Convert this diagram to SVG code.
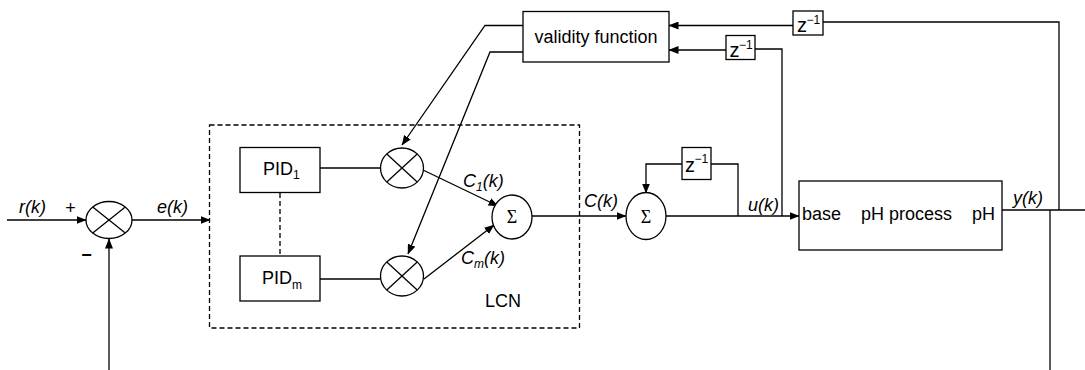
<svg xmlns="http://www.w3.org/2000/svg" width="1085" height="370" viewBox="0 0 1085 370">
<style>
.b{fill:#fff;stroke:#000;stroke-width:1.3}
.l{fill:none;stroke:#000;stroke-width:1.3}
.d{fill:none;stroke:#000;stroke-width:1.3;stroke-dasharray:5 3}
.t{font-family:"Liberation Sans",Arial,sans-serif;font-size:18px;fill:#000}
.i{font-style:italic}
.s{font-size:12px}
.z{font-family:"Liberation Sans",Arial,sans-serif;font-size:20px;fill:#000}
.sg{font-family:"Liberation Serif","Times New Roman",serif;font-size:18px;fill:#000}
.a{marker-end:url(#ar)}
</style>
<defs>
<marker id="ar" markerUnits="userSpaceOnUse" markerWidth="10" markerHeight="8" refX="9.5" refY="4" orient="auto">
<path d="M0,0 L10,4 L0,8 z" fill="#000"/>
</marker>
</defs>
<rect width="1085" height="370" fill="#fff"/>
<g id="connectors">
<line class="l a" x1="7" y1="220" x2="86" y2="220"/>
<line class="l a" x1="132" y1="220" x2="210" y2="220"/>
<line class="l a" x1="109" y1="370" x2="109" y2="239"/>
<line class="l" x1="320" y1="168" x2="380" y2="168"/>
<line class="l" x1="320" y1="279" x2="380" y2="279"/>
<line class="d" x1="280" y1="193" x2="280" y2="256"/>
<line class="l a" x1="423" y1="170" x2="498" y2="206"/>
<line class="l a" x1="424" y1="279" x2="494" y2="225"/>
<polyline class="l a" points="523,25.5 485,25.5 402,145"/>
<polyline class="l a" points="523,52 490,52 408,254"/>
<line class="l a" x1="532" y1="216" x2="626" y2="216"/>
<line class="l a" x1="666" y1="216" x2="799" y2="216"/>
<polyline class="l" points="738,216 738,164 711,164"/>
<polyline class="l a" points="682,164 646,164 646,193"/>
<polyline class="l" points="782,216 782,49 755,49"/>
<line class="l a" x1="726" y1="50" x2="669" y2="50"/>
<line class="l" x1="1002" y1="210" x2="1085" y2="210"/>
<polyline class="l" points="1059,210 1059,22 823,22"/>
<line class="l a" x1="793" y1="25.5" x2="669" y2="25.5"/>
<line class="l" x1="1050" y1="210" x2="1050" y2="370"/>
</g>
<g id="lcn">
<rect class="d" x="209.5" y="125" width="370" height="203"/>
<text class="t" x="485" y="307">LCN</text>
</g>
<g id="sum1">
<ellipse class="b" cx="109" cy="220" rx="23" ry="18.5"/>
<line class="l" x1="92.7" y1="206.9" x2="125.3" y2="233.1"/>
<line class="l" x1="92.7" y1="233.1" x2="125.3" y2="206.9"/>
</g>
<g id="pid1">
<rect class="b" x="240" y="147.5" width="80" height="45"/>
<text class="t" x="263" y="174.5">PID<tspan class="s" dy="4">1</tspan></text>
</g>
<g id="pidm">
<rect class="b" x="240" y="256" width="80" height="45"/>
<text class="t" x="262" y="283.5">PID<tspan class="s" dy="5">m</tspan></text>
</g>
<g id="mult1">
<ellipse class="b" cx="402" cy="168" rx="21.5" ry="20"/>
<line class="l" x1="386.8" y1="153.9" x2="417.2" y2="182.1"/>
<line class="l" x1="386.8" y1="182.1" x2="417.2" y2="153.9"/>
</g>
<g id="multm">
<ellipse class="b" cx="402" cy="276" rx="21.5" ry="20"/>
<line class="l" x1="386.8" y1="261.9" x2="417.2" y2="290.1"/>
<line class="l" x1="386.8" y1="290.1" x2="417.2" y2="261.9"/>
</g>
<g id="sigma1">
<ellipse class="b" cx="512" cy="217" rx="20" ry="22"/>
<text class="sg" x="512" y="223" text-anchor="middle">Σ</text>
</g>
<g id="sigma2">
<ellipse class="b" cx="646" cy="216" rx="20" ry="23.5"/>
<text class="sg" x="646" y="222.5" text-anchor="middle">Σ</text>
</g>
<g id="validity">
<rect class="b" x="523" y="11.5" width="146" height="50.5"/>
<text class="t" x="596" y="43" text-anchor="middle">validity function</text>
</g>
<g id="z1">
<rect class="b" x="793" y="11" width="30" height="24"/>
<text class="z" x="797" y="32">z<tspan class="s" dx="-0.5" dy="-8">−1</tspan></text>
</g>
<g id="z2">
<rect class="b" x="726" y="35.5" width="29" height="24"/>
<text class="z" x="729.5" y="56.5">z<tspan class="s" dx="-0.5" dy="-8">−1</tspan></text>
</g>
<g id="z3">
<rect class="b" x="682" y="147.5" width="29" height="32"/>
<text class="z" x="685" y="171.5">z<tspan class="s" dx="-0.5" dy="-9">−1</tspan></text>
</g>
<g id="process">
<rect class="b" x="799" y="181" width="203" height="69"/>
<text class="t" x="802" y="220">base</text>
<text class="t" x="861" y="220">pH process</text>
<text class="t" x="972" y="220">pH</text>
</g>
<g id="labels">
<text class="t i" x="19" y="213">r(k)</text>
<text class="t" x="70.5" y="214" text-anchor="middle">+</text>
<text class="t" x="86.5" y="261" text-anchor="middle" style="font-weight:bold">−</text>
<text class="t i" x="157" y="213">e(k)</text>
<text class="t i" x="463" y="187">C<tspan class="s" dy="4">1</tspan><tspan dy="-4">(k)</tspan></text>
<text class="t i" x="461" y="264">C<tspan class="s" dy="4">m</tspan><tspan dy="-4">(k)</tspan></text>
<text class="t i" x="584" y="207">C(k)</text>
<text class="t i" x="748" y="211">u(k)</text>
<text class="t i" x="1013" y="204">y(k)</text>
</g>
</svg>
